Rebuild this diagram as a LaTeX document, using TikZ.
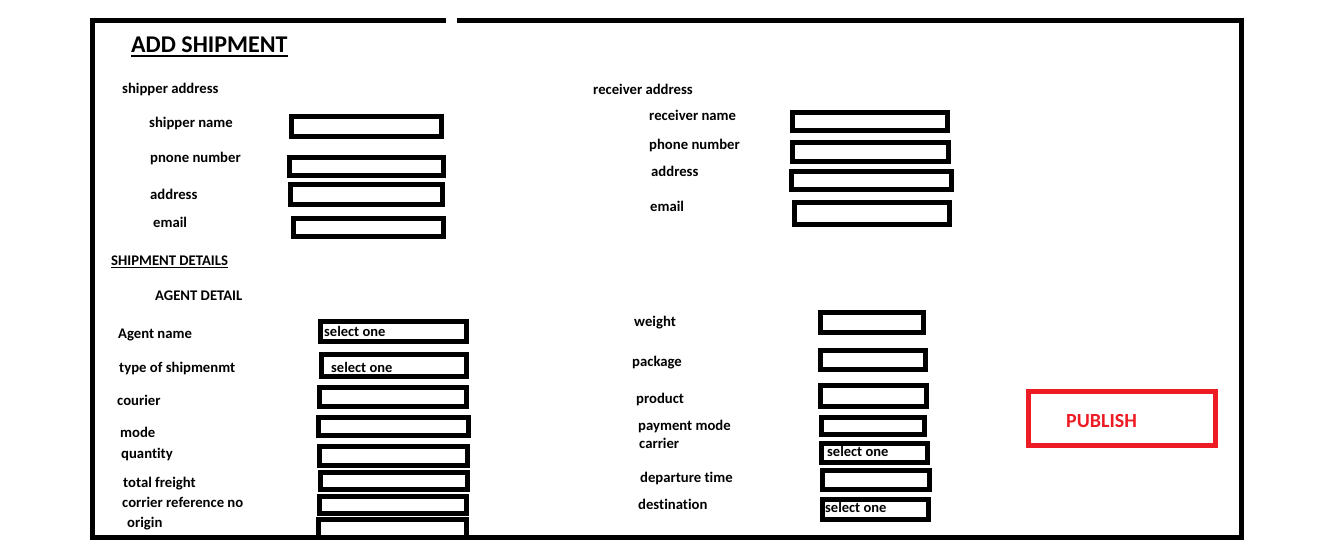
\documentclass[tikz,border=0pt]{standalone}
\usepackage{fontspec}
\setmainfont[Ligatures=NoCommon]{Carlito}
\definecolor{pubred}{HTML}{ED1C24}
\tikzset{
  fieldbox/.style={draw=black, line width=5pt, inner sep=0pt, fill=white},
  lbl/.style={anchor=base west, inner sep=0pt, font=\fontsize{14.7}{17}\selectfont\bfseries},
  sel/.style={anchor=base west, inner sep=0pt, font=\fontsize{14.5}{17}\selectfont\bfseries},
  frameline/.style={line width=5pt, line join=miter}
}
\newcommand\fld[5]{\node[fieldbox, minimum width={#4-#2-5}, minimum height={#5-#3-5}] (#1) at ({(#2+#4)/2},{(#3+#5)/2}) {};}
\begin{document}
\begin{tikzpicture}[x=1pt,y=-1pt]
\useasboundingbox (0,0) rectangle (1324,558);
% outer frame
\coordinate (g1) at (446,20.5);
\coordinate (g2) at (457,20.5);
\coordinate (c1) at (92.5,20.5);
\coordinate (c2) at (92.5,537.5);
\coordinate (c3) at (1241.5,537.5);
\coordinate (c4) at (1241.5,20.5);
\draw[frameline] (g1) -- (c1) -- (c2) -- (c3) -- (c4) -- (g2);
% title
\node[anchor=base west, inner sep=0pt, font=\fontsize{24}{28}\selectfont\bfseries] (title) at (131,52) {ADD SHIPMENT};
\draw[line width=2pt] ([yshift=-3.5pt]title.base west) -- ([yshift=-3.5pt]title.base east);
% shipper
\node[lbl] (shaddr) at (122,93) {shipper address};
\node[lbl] (shname) at (149,127) {shipper name};
\node[lbl] (shphone) at (150,162) {pnone number};
\node[lbl] (shad) at (150,199) {address};
\node[lbl] (shmail) at (153,227) {email};
\fld{s1}{289}{114}{444}{139}
\fld{s2}{287}{155}{446}{178}
\fld{s3}{288}{182}{445}{207}
\fld{s4}{291}{216}{446}{239}
% receiver
\node[lbl] (rcaddr) at (593,94) {receiver address};
\node[lbl] (rcname) at (649,120) {receiver name};
\node[lbl] (rcphone) at (649,149) {phone number};
\node[lbl] (rcad) at (651,176) {address};
\node[lbl] (rcmail) at (650,211) {email};
\fld{r1}{790}{110}{950}{133}
\fld{r2}{790}{140}{951}{164}
\fld{r3}{789}{169}{954}{192}
\fld{r4}{792}{200}{952}{227}
% shipment details
\node[lbl] (sdet) at (111,265) {SHIPMENT DETAILS};
\draw[line width=1.5pt] ([yshift=-2.5pt]sdet.base west) -- ([yshift=-2.5pt]sdet.base east);
\node[lbl] (agdet) at (155,300) {AGENT DETAIL};
\node[lbl] (agname) at (118,338) {Agent name};
\node[lbl] (tyship) at (119,372) {type of shipmenmt};
\node[lbl] (courier) at (117,405) {courier};
\node[lbl] (mode) at (120,437) {mode};
\node[lbl] (qty) at (121,458) {quantity};
\node[lbl] (tfr) at (123,487) {total freight};
\node[lbl] (cref) at (122,507) {corrier reference no};
\node[lbl] (origin) at (127,527) {origin};
\fld{a1}{318}{319}{469}{344}
\fld{a2}{319}{352}{469}{379}
\fld{a3}{317}{385}{469}{409}
\fld{a4}{316}{415}{471}{438}
\fld{a5}{317}{444}{470}{468}
\fld{a6}{318}{470}{470}{492}
\fld{a7}{317}{494}{469}{516}
\fld{a8}{316}{517}{469}{540}
\node[sel] (sel1) at (324,336) {select one};
\node[sel] (sel2) at (331,372) {select one};
% right column
\node[lbl] (weight) at (634,326) {weight};
\node[lbl] (package) at (632,366) {package};
\node[lbl] (product) at (636,403) {product};
\node[lbl] (paymode) at (638,430) {payment mode};
\node[lbl] (carrier) at (639,448) {carrier};
\node[lbl] (deptime) at (640,482) {departure time};
\node[lbl] (dest) at (638,509) {destination};
\fld{w1}{818}{310}{926}{335}
\fld{w2}{818}{348}{928}{372}
\fld{w3}{818}{383}{929}{409}
\fld{w4}{819}{415}{927}{437}
\fld{w5}{819}{441}{930}{465}
\fld{w6}{820}{468}{932}{492}
\fld{w7}{820}{497}{931}{522}
\node[sel] (sel3) at (827,456) {select one};
\node[sel] (sel4) at (825,512) {select one};
% redraw frame bottom over last box
\draw[frameline] (c2) -- (c3);
% publish
\node[draw=pubred, line width=5pt, inner sep=0pt, minimum width=187pt, minimum height=54pt] (pubbox) at (1122,418.5) {};
\node[anchor=base west, inner sep=0pt, text=pubred, font=\fontsize{20}{24}\selectfont\bfseries] (pub) at (1066,427) {PUBLISH};
\end{tikzpicture}
\end{document}
